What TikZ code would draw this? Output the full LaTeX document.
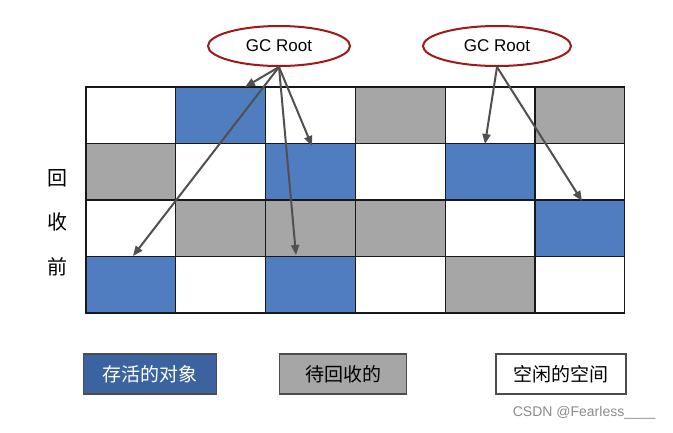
\documentclass[tikz,border=0pt]{standalone}
\usepackage{fontspec}
\setmainfont{Liberation Sans}
\newfontfamily\cjk{Noto Sans CJK SC}
\usepackage{tikz}
\usetikzlibrary{arrows.meta,shapes.geometric,positioning,calc}
\definecolor{gblue}{HTML}{4F7DC0}
\definecolor{ggray}{HTML}{A6A6A6}
\definecolor{gdark}{HTML}{3B63A0}
\definecolor{gred}{HTML}{A01818}
\definecolor{garrow}{HTML}{505050}
\tikzset{
  >={Triangle[length=10pt,width=8pt]},
  gcell/.style={draw=black!90, line width=1.3pt, minimum width=89.8pt,
                minimum height=56.5pt, inner sep=0pt, outer sep=0pt, anchor=north west},
  cellw/.style={fill=white},
  cellb/.style={fill=gblue},
  cellg/.style={fill=ggray},
  groot/.style={ellipse, draw=gred, line width=2pt, fill=white,
                minimum width=142pt, minimum height=40pt, inner sep=0pt,
                font=\fontsize{17}{19}\selectfont},
  gref/.style={->, garrow, line width=2pt},
  gside/.style={font=\cjk\fontsize{20}{22}\selectfont},
  gkey/.style={line width=1.6pt, minimum height=40pt, inner sep=0pt,
               font=\cjk\fontsize{19}{21}\selectfont},
}
\begin{document}
\begin{tikzpicture}[x=1pt,y=-1pt]
  \useasboundingbox (0,0) rectangle (673,432);

  % heap cells
  \foreach \c [count=\i from 0] in {w,b,w,g,w,g, g,w,b,w,b,w, w,g,g,g,w,b, b,w,b,w,g,w}{
    \pgfmathtruncatemacro\row{int(\i/6)}
    \pgfmathtruncatemacro\col{mod(\i,6)}
    \node[gcell, cell\c] (c\i) at ({86+\col*89.8},{87+\row*56.5}) {};
  }

  % roots
  \node[groot] (r1) at (279,46) {GC Root};
  \node[groot, minimum width=148pt] (r2) at (497,46) {GC Root};

  % 回收前
  \node[gside] (s1) at (57,178) {回};
  \node[gside] (s2) at (57,222) {收};
  \node[gside] (s3) at (57,267) {前};

  % arrow targets
  \coordinate (t1) at (245,87);
  \coordinate (t2) at (312,146);
  \coordinate (t3) at (296,255);
  \coordinate (t4) at (133,256);
  \coordinate (t5) at (485,144);
  \coordinate (t6) at (582,201);

  \draw[gref] (r1.south) -- (t1);
  \draw[gref] (r1.south) -- (t2);
  \draw[gref] (r1.south) -- (t3);
  \draw[gref] (r1.south) -- (t4);
  \draw[gref] (r2.south) -- (t5);
  \draw[gref] (r2.south) -- (t6);

  % legend
  \node[gkey, fill=gdark, draw=black!70, text=white, minimum width=133pt] (k1) at (150,374) {存活的对象};
  \node[gkey, fill=ggray, draw=black!70, minimum width=127pt] (k2) at (343,374) {待回收的};
  \node[gkey, fill=white, draw=black!70, minimum width=130pt] (k3) at (561,374) {空闲的空间};

  \node[anchor=east, black!45, font=\fontsize{14}{16}\selectfont] (wm) at (659,413) {CSDN @Fearless\_\_\_\_};
\end{tikzpicture}
\end{document}
